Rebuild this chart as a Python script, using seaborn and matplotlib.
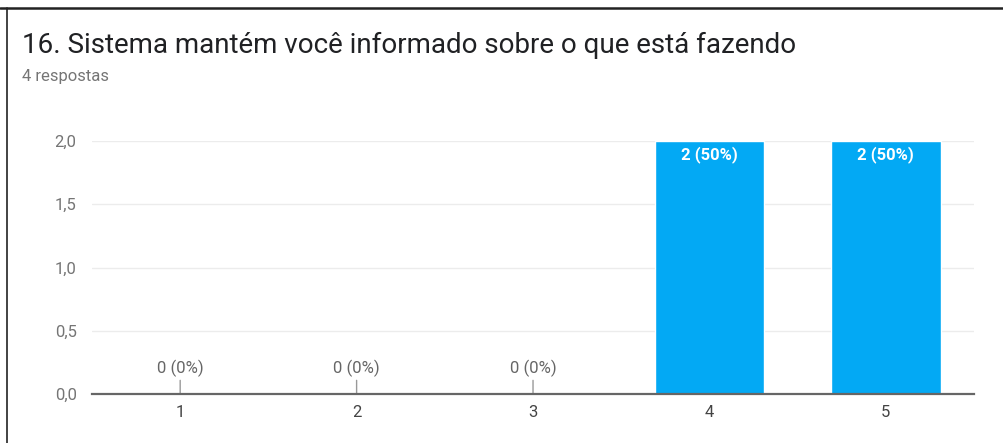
import matplotlib
matplotlib.use('Agg')
import matplotlib.pyplot as plt
from matplotlib.lines import Line2D
import seaborn as sns
import pandas as pd

'''
dados do gráfico
'''
titulo = '16. Sistema mantém você informado sobre o que está fazendo'
subtitulo = '4 respostas'
categorias = ['1', '2', '3', '4', '5']
respostas = [0, 0, 0, 2, 2]
percentuais = [0, 0, 0, 50, 50]
y_ticks = [0.0, 0.5, 1.0, 1.5, 2.0]
y_labels = ['0,0', '0,5', '1,0', '1,5', '2,0']

sns.set_style('white')
plt.rcParams['font.family'] = ['Roboto', 'DejaVu Sans']

df = pd.DataFrame({'nota': categorias, 'qtd': respostas})

fig = plt.figure(figsize=(10.04, 4.43), dpi=100)
ax = fig.add_axes([0.0916, 0.1106, 0.8786, 0.5711])

sns.barplot(data=df, x='nota', y='qtd', color='#03a9f4', width=0.62,
            saturation=1, ax=ax, zorder=3)

ax.set_ylim(0, 2)
ax.set_xlim(-0.5, len(categorias) - 0.5)
ax.set_yticks(y_ticks)
ax.set_yticklabels(y_labels)
ax.set_xlabel('')
ax.set_ylabel('')
ax.grid(axis='y', color='#ececec', linewidth=1, zorder=0)
ax.tick_params(axis='y', length=0, pad=11, labelsize=12, labelcolor='#757575')
ax.tick_params(axis='x', length=0, pad=8, labelsize=12, labelcolor='#444444')
for s in ['left', 'right', 'top']:
    ax.spines[s].set_visible(False)
ax.spines['bottom'].set_color('#666666')
ax.spines['bottom'].set_linewidth(1.6)
ax.spines['bottom'].set_zorder(4)

# rótulos das barras
for i, (v, p) in enumerate(zip(respostas, percentuais)):
    txt = f'{v} ({p}%)'
    if v == 0:
        ax.annotate(txt, xy=(i, v), xytext=(0, 12.2), textcoords='offset points',
                    ha='center', va='bottom', fontsize=12, color='#666666',
                    arrowprops=dict(arrowstyle='-', color='#999999', lw=1,
                                    shrinkA=0, shrinkB=0))
    else:
        ax.annotate(txt, xy=(i, v), xytext=(0, -4), textcoords='offset points',
                    ha='center', va='top', fontsize=12, color='white',
                    fontweight='bold')

fig.text(22 / 1004, 1 - 45 / 443, titulo, fontsize=20, color='#202124',
         va='center', ha='left')
fig.text(22 / 1004, 1 - 76 / 443, subtitulo, fontsize=12, color='#757575',
         va='center', ha='left')

# moldura
fig.add_artist(Line2D([0, 1], [1 - 8 / 443, 1 - 8 / 443], color='#222222', lw=1.8))
fig.add_artist(Line2D([7 / 1004, 7 / 1004], [0, 1 - 8 / 443], color='#222222', lw=1.2))

plt.savefig('out.png', dpi=100)
